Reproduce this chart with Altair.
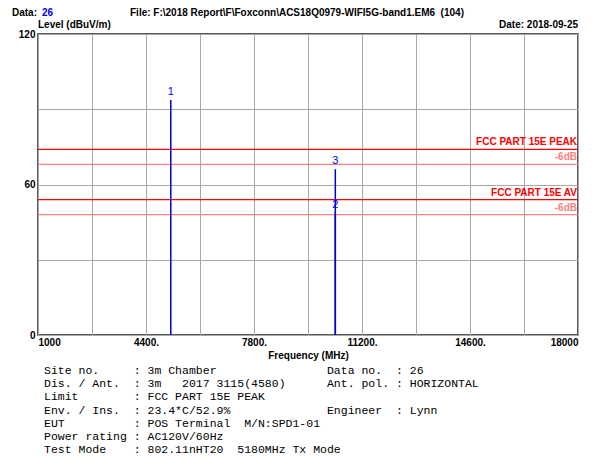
import altair as alt
import pandas as pd

# ---- data ----
x_grid = [1000, 2700, 4400, 6100, 7800, 9500, 11200, 12900, 14600, 16300, 18000]
x_tick_values = [1000, 4400, 7800, 11200, 14600, 18000]
x_tick_labels = ["1000", "4400.", "7800.", "11200.", "14600.", "18000"]
y_grid = [0, 15, 30, 45, 60, 75, 90, 105, 120]
y_tick_values = [0, 60, 120]
y_tick_labels = ["0", "60", "120"]

marker_ids = ["1", "2", "3"]
marker_freq = [5180, 10360, 10360]
marker_level = [93.7, 48.8, 66.1]

limit_names = ["FCC PART 15E PEAK", "-6dB", "FCC PART 15E AV", "-6dB"]
limit_levels = [74, 68, 54, 48]
limit_kind = ["limit", "margin", "limit", "margin"]

info_lines = [
    "Site no.     : 3m Chamber                Data no.  : 26",
    "Dis. / Ant.  : 3m   2017 3115(4580)      Ant. pol. : HORIZONTAL",
    "Limit        : FCC PART 15E PEAK",
    "Env. / Ins.  : 23.4*C/52.9%              Engineer  : Lynn",
    "EUT          : POS Terminal  M/N:SPD1-01",
    "Power rating : AC120V/60Hz",
    "Test Mode    : 802.11nHT20  5180MHz Tx Mode",
]

header_data_label = "Data: "
header_data_value = "26"
header_file = "File: F:\\2018 Report\\F\\Foxconn\\ACS18Q0979-WIFI5G-band1.EM6  (104)"
header_level = "Level (dBuV/m)"
header_date = "Date: 2018-09-25"
x_title = "Frequency (MHz)"

SANS = "Liberation Sans"
MONO = "Liberation Mono"

# ---- helpers ----
def js_map(vals, labels):
    parts = []
    for v, l in zip(vals, labels):
        parts.append(f"datum.value == {v} ? '{l}' : ")
    return "".join(parts) + "''"

def keep_spaces(s):
    return s.replace(" ", "\u00a0")

xs = alt.Scale(domain=[1000, 18000], nice=False, zero=False)
ys = alt.Scale(domain=[0, 120], nice=False, zero=False)
kind_scale = alt.Scale(domain=["limit", "margin"], range=["#ff0000", "#ff8080"])

markers = pd.DataFrame({"id": marker_ids, "freq": marker_freq,
                        "level": marker_level, "base": [0] * len(marker_ids)})
limits = pd.DataFrame({"name": limit_names, "level": limit_levels, "kind": limit_kind})

one = pd.DataFrame({"a": [0]})

limit_lines = alt.Chart(limits).mark_rule(strokeWidth=1.3).encode(
    y=alt.Y("level:Q", scale=ys,
            axis=alt.Axis(values=y_grid, labelExpr=js_map(y_tick_values, y_tick_labels),
                          title=None, ticks=False, domain=False, grid=True,
                          gridColor="#a8a8a8", gridWidth=1,
                          labelFont=SANS, labelFontSize=10, labelFontWeight="bold",
                          labelColor="black", labelPadding=3)),
    color=alt.Color("kind:N", scale=kind_scale, legend=None),
)

limit_text = alt.Chart(limits).mark_text(
    align="right", baseline="bottom", dy=-2, dx=-1, font=SANS, fontSize=10, fontWeight="bold"
).encode(
    y=alt.Y("level:Q", scale=ys),
    x=alt.value(540),
    text="name:N",
    color=alt.Color("kind:N", scale=kind_scale, legend=None),
)

marker_lines = alt.Chart(markers).mark_rule(color="#0000cc", strokeWidth=1.5).encode(
    x=alt.X("freq:Q", scale=xs,
            axis=alt.Axis(values=x_grid, labelExpr=js_map(x_tick_values, x_tick_labels),
                          title=x_title, titleFont=SANS, titleFontSize=10,
                          titleFontWeight="bold", titleColor="black", titlePadding=3,
                          ticks=False, domain=False, grid=True, gridColor="#a8a8a8",
                          gridWidth=1, labelFlush=True, labelOverlap=False,
                          labelFont=SANS, labelFontSize=10, labelFontWeight="bold",
                          labelColor="black", labelPadding=2)),
    y=alt.Y("level:Q", scale=ys),
    y2="base:Q",
)

marker_text = alt.Chart(markers).mark_text(
    baseline="middle", dy=-8, font=SANS, fontSize=11, color="#0000ee"
).encode(
    x=alt.X("freq:Q", scale=xs),
    y=alt.Y("level:Q", scale=ys),
    text="id:N",
)

def label(txt, x, y, align="left", color="black", weight="bold", font=SANS, size=10):
    return alt.Chart(one).mark_text(
        align=align, baseline="top", font=font, fontSize=size,
        fontWeight=weight, color=color
    ).encode(x=alt.value(x), y=alt.value(y), text=alt.value(keep_spaces(txt)))

h1 = label(header_data_label, -26, -26)
h2 = label(header_data_value, 4, -26, color="#0000ff")
h3 = label(header_file, 92, -26)
h4 = label(header_level, 0, -14)
h5 = label(header_date, 540, -14, align="right")

info = alt.Chart(one).mark_text(
    align="left", baseline="top", font=MONO, fontSize=11.5, color="black",
    lineBreak="\n", lineHeight=13.2
).encode(
    x=alt.value(6), y=alt.value(331),
    text=alt.value("\n".join(keep_spaces(l) for l in info_lines)),
)

chart = alt.layer(
    limit_lines, marker_lines, limit_text, marker_text, h1, h2, h3, h4, h5, info
).properties(
    width=540, height=301,
    autosize=alt.AutoSizeParams(type="none"),
    padding={"left": 30, "top": 26, "right": 10, "bottom": 123},
    background="white",
).configure_view(stroke="#222222", strokeWidth=1.5)

chart.save("out.html", embed_options={"renderer": "svg", "actions": False})
